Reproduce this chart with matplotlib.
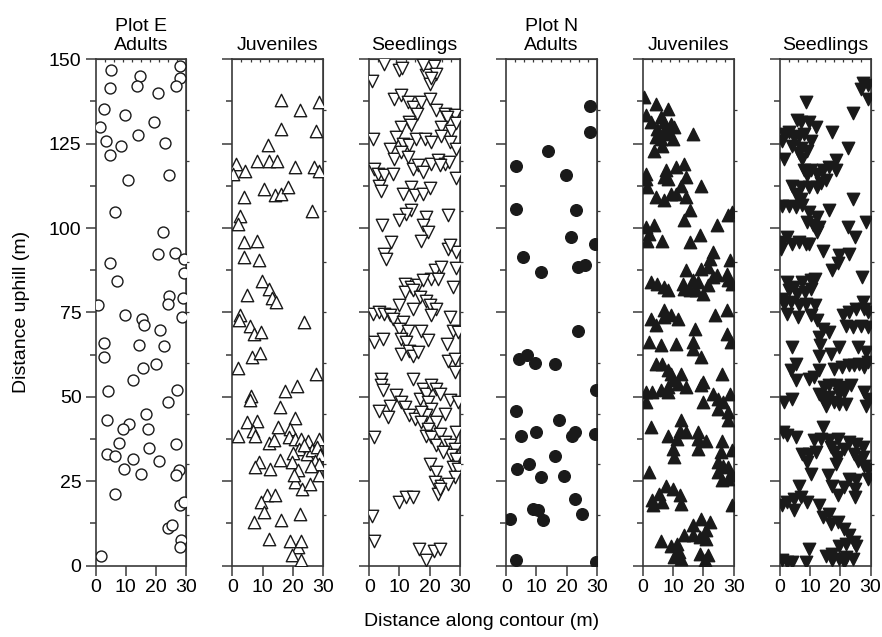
import numpy as np
import matplotlib.pyplot as plt

plt.rcParams['font.family'] = ['Liberation Sans', 'DejaVu Sans']
plt.rcParams['font.size'] = 14

# Plot E adults (open circles)
e_adult_x = [5.3, 27.9, 14.6, 27.9, 4.8, 13.7, 26.6, 20.7, 2.8, 9.9, 19.4, 1.4, 14.0, 3.5, 8.3,
             23.0, 4.8, 10.8, 24.3, 6.6, 22.5, 20.8, 26.5, 29.4, 4.8, 29.4, 7.1, 24.4, 23.9, 29.1,
             0.9, 9.9, 15.3, 16.2, 28.7, 21.4, 2.8, 14.4, 22.8, 2.8, 15.6, 20.2, 12.5, 4.2, 26.9,
             24.0, 16.9, 3.8, 11.0, 9.0, 17.5, 7.8, 26.7, 17.7, 3.8, 6.6, 12.3, 21.0, 9.3, 15.1,
             27.7, 26.7, 6.5, 28.0, 29.4, 23.9, 25.5, 28.3, 27.9, 1.8]
e_adult_y = [146.9, 147.9, 145.0, 144.5, 141.5, 142.0, 142.0, 140.1, 135.2, 133.6, 131.4, 129.9,
             127.5, 125.9, 124.3, 125.3, 121.5, 114.3, 115.6, 104.7, 98.7, 92.4, 92.7, 90.8, 89.5,
             86.7, 84.4, 79.8, 77.6, 79.2, 77.2, 74.1, 73.0, 71.3, 73.6, 69.8, 65.8, 65.4, 65.0,
             61.9, 58.5, 59.6, 55.0, 51.6, 51.9, 48.4, 45.0, 43.0, 42.0, 40.5, 40.5, 36.3, 36.1,
             34.9, 33.1, 32.3, 31.6, 30.9, 28.7, 27.2, 28.4, 26.9, 21.2, 17.8, 18.8, 11.1, 11.9,
             7.7, 5.5, 2.7]

# Plot E juveniles (open up-triangles)
e_juv_x = [16.2, 28.7, 22.3, 16.2, 27.8, 11.8, 1.3, 8.3, 12.0, 14.9, 20.9, 27.2, 28.7, 4.2, 0.1,
           4.0, 10.6, 14.2, 16.2, 18.4, 26.4, 2.6, 2.0, 4.0, 8.1, 4.0, 8.7, 9.8, 12.0, 4.7, 13.1,
           14.4, 2.4, 2.1, 5.7, 7.2, 9.6, 23.9, 6.4, 9.2, 1.8, 27.8, 21.4, 17.6, 6.1, 5.8, 15.9,
           4.8, 8.1, 6.7, 20.9, 1.8, 15.1, 7.6, 12.0, 13.8, 19.2, 18.7, 20.7, 22.8, 24.9, 28.7,
           22.0, 20.0, 24.8, 26.4, 28.1, 28.9, 27.3, 8.7, 7.6, 12.6, 15.9, 19.8, 21.8, 20.7, 20.4,
           23.1, 25.6, 28.7, 11.4, 14.0, 9.4, 10.6, 22.3, 7.2, 16.0, 12.0, 19.1, 21.8, 22.6, 19.8,
           22.7, 28.7, 26.2, 23.6]
e_juv_y = [137.8, 137.2, 134.9, 129.4, 128.9, 124.7, 119.1, 119.8, 119.8, 120.0, 118.0, 118.0,
           117.0, 117.0, 116.0, 109.2, 111.6, 109.7, 110.2, 112.2, 105.1, 103.6, 101.1, 96.0,
           96.3, 91.3, 90.6, 84.4, 82.0, 80.2, 79.2, 78.2, 74.3, 72.6, 70.9, 68.6, 69.2, 72.1,
           61.7, 62.9, 58.5, 56.8, 53.1, 51.6, 50.1, 48.9, 47.1, 42.5, 42.7, 40.0, 43.7, 38.5,
           40.9, 38.3, 36.4, 37.2, 40.5, 38.0, 37.4, 37.4, 36.9, 37.5, 34.6, 33.3, 33.1, 34.1,
           35.1, 32.6, 31.1, 30.6, 29.2, 28.7, 31.4, 30.8, 28.2, 24.7, 26.7, 22.7, 24.2, 26.7,
           21.0, 20.8, 18.8, 15.8, 15.3, 12.8, 13.6, 7.9, 7.4, 5.4, 7.4, 3.0, 1.5, 30.1, 29.6, 35.6]

# Plot E seedlings (open down-triangles)
e_seed_x = [0.9, 5.0, 10.0, 10.9, 18.9, 21.3, 22.0, 17.8, 20.0, 20.6, 8.3, 10.6, 12.8, 14.4, 17.2,
            20.0, 22.2, 25.0, 28.3, 25.6, 15.8, 13.3, 10.6, 13.9, 23.9, 27.2, 28.9, 1.3, 6.7, 8.9,
            11.1, 13.3, 15.6, 18.3, 20.6, 23.9, 26.7, 28.7, 8.3, 10.6, 12.8, 14.4, 16.1, 17.8,
            20.6, 22.8, 25.0, 26.4, 23.3, 1.7, 2.8, 5.0, 7.8, 3.3, 3.9, 28.9, 11.1, 13.9, 15.0,
            17.8, 20.2, 13.9, 12.2, 10.0, 18.9, 17.8, 19.4, 17.2, 26.1, 4.2, 7.2, 26.1, 5.0, 5.6,
            28.9, 26.7, 21.7, 23.9, 28.9, 20.6, 22.8, 11.7, 13.9, 16.1, 17.8, 27.8, 11.7, 14.4,
            16.7, 18.9, 10.0, 14.4, 20.0, 22.2, 1.3, 3.3, 5.0, 6.7, 7.8, 11.1, 20.6, 26.7, 27.8,
            29.4, 10.0, 12.8, 17.2, 1.7, 4.4, 10.6, 12.2, 19.4, 25.6, 10.6, 13.3, 14.4, 16.1, 26.1,
            28.3, 28.3, 3.9, 3.9, 4.7, 14.4, 8.9, 6.7, 3.3, 6.1, 10.6, 11.7, 13.3, 15.0, 16.7,
            17.8, 18.9, 20.6, 22.2, 23.3, 19.4, 20.6, 18.9, 17.2, 22.2, 25.0, 26.7, 29.4, 17.2,
            19.4, 1.7, 18.9, 20.6, 23.3, 28.9, 22.2, 25.0, 26.7, 28.3, 27.2, 28.9, 24.4, 20.0,
            27.8, 29.4, 28.3, 22.2, 21.7, 23.9, 26.1, 22.8, 23.3, 10.0, 12.2, 14.4, 0.9, 1.7, 16.4,
            21.3, 23.3, 18.7]
e_seed_y = [143.5, 148.7, 146.7, 147.4, 145.3, 148.0, 145.6, 148.2, 142.8, 144.5, 138.3, 139.5,
            137.4, 135.9, 137.4, 138.3, 134.9, 133.9, 133.6, 132.9, 133.9, 131.4, 129.9, 130.4,
            129.9, 128.9, 131.0, 126.3, 123.5, 127.0, 125.0, 124.5, 126.5, 126.5, 125.5, 127.4,
            125.5, 123.5, 120.6, 122.5, 121.1, 117.6, 118.6, 116.6, 119.1, 120.1, 119.1, 119.6,
            118.6, 117.6, 116.1, 115.6, 116.1, 112.6, 111.1, 114.7, 110.2, 112.2, 109.7, 110.2,
            111.9, 105.2, 104.2, 102.3, 103.3, 100.8, 98.8, 96.3, 103.8, 101.0, 95.8, 93.9, 92.4,
            90.9, 92.9, 94.9, 87.5, 88.5, 88.2, 85.0, 85.0, 83.5, 82.5, 83.0, 84.5, 82.5, 81.0,
            81.5, 79.5, 78.5, 77.1, 76.1, 77.1, 76.1, 74.6, 75.1, 74.6, 74.1, 73.1, 72.1, 74.1,
            73.6, 69.6, 69.1, 70.2, 69.6, 69.6, 66.2, 67.2, 67.2, 66.2, 66.7, 65.7, 62.7, 63.7,
            62.2, 63.2, 60.7, 61.3, 57.3, 55.3, 53.4, 51.9, 55.3, 50.4, 47.4, 45.7, 44.0, 48.4,
            46.9, 44.5, 43.5, 49.4, 52.4, 50.9, 53.4, 52.4, 50.9, 48.4, 46.4, 44.5, 45.5, 42.5,
            45.0, 48.9, 48.4, 42.5, 40.5, 38.0, 38.5, 38.0, 39.0, 39.5, 35.6, 36.6, 35.6, 34.6,
            32.6, 31.6, 33.6, 30.1, 29.2, 28.7, 26.2, 27.7, 24.7, 23.7, 24.2, 21.3, 22.7, 18.8,
            20.3, 20.3, 14.8, 7.4, 4.9, 4.4, 4.9, 1.5]

# Plot N adults (filled circles)
n_adult_x = [27.9, 27.9, 13.9, 3.4, 19.8, 3.3, 23.3, 21.6, 29.4, 5.7, 11.4, 23.7, 26.1, 23.8, 4.2,
             6.9, 9.6, 16.2, 29.8, 3.3, 17.6, 10.0, 22.7, 29.3, 5.0, 21.9, 16.2, 7.6, 3.7, 11.4,
             19.0, 22.8, 8.9, 10.6, 25.1, 1.2, 12.3, 3.3, 29.8]
n_adult_y = [136.2, 128.5, 122.8, 118.3, 115.8, 105.5, 105.2, 97.3, 95.2, 91.4, 87.0, 88.5, 88.9,
             69.5, 61.3, 62.3, 60.0, 59.8, 51.9, 45.8, 43.0, 39.7, 39.5, 39.0, 38.3, 38.3, 32.3,
             30.1, 28.7, 26.2, 26.5, 19.8, 16.8, 16.3, 15.3, 13.8, 13.6, 1.5, 1.0]

# Plot N juveniles (filled up-triangles)
n_juv_x = [0.4, 4.2, 8.1, 0.8, 2.5, 5.8, 7.0, 9.2, 10.3, 4.7, 7.0, 8.7, 4.3, 5.8, 9.8, 16.5, 6.4,
           3.6, 0.8, 0.8, 1.3, 7.5, 7.0, 8.1, 10.9, 13.5, 14.3, 12.6, 19.1, 4.3, 7.0, 9.2, 10.9,
           14.3, 15.4, 13.7, 0.8, 2.0, 3.6, 1.4, 6.4, 15.4, 19.0, 24.4, 28.3, 29.4, 23.3, 22.1,
           28.9, 14.3, 19.3, 21.6, 24.4, 27.8, 13.1, 23.3, 16.5, 18.3, 21.6, 28.3, 29.4, 2.5, 4.7,
           7.0, 8.1, 13.7, 15.4, 17.5, 19.8, 7.0, 2.5, 4.2, 7.0, 9.2, 11.5, 23.8, 27.7, 17.1, 1.9,
           5.8, 10.9, 16.5, 16.5, 19.3, 27.8, 29.0, 4.2, 6.4, 8.1, 9.2, 12.6, 9.8, 11.5, 8.1, 14.3,
           19.8, 19.3, 26.1, 0.8, 0.8, 3.0, 5.8, 8.3, 23.3, 24.9, 26.6, 28.9, 19.9, 24.9, 28.3,
           28.3, 2.7, 12.6, 12.1, 14.3, 8.1, 11.4, 18.2, 21.0, 18.2, 9.8, 10.3, 18.2, 26.1, 29.4,
           25.8, 24.9, 26.6, 24.9, 28.3, 26.1, 28.3, 29.4, 1.9, 7.5, 5.3, 9.8, 12.1, 3.0, 3.4, 6.4,
           12.6, 29.4, 19.3, 22.1, 16.5, 20.9, 13.7, 5.8, 9.2, 11.4, 16.5, 18.8, 21.0, 12.0, 10.3,
           12.6, 18.8, 21.6, 20.5]
n_juv_y = [138.8, 136.8, 135.3, 133.4, 131.4, 132.9, 131.4, 130.9, 129.9, 129.4, 128.9, 127.9,
           126.9, 126.5, 126.5, 127.9, 124.3, 122.7, 116.1, 114.6, 112.2, 117.1, 115.1, 114.6,
           118.1, 119.1, 115.1, 112.6, 112.6, 109.2, 108.2, 110.2, 110.2, 109.2, 105.2, 102.3,
           100.3, 98.3, 100.8, 96.3, 96.3, 95.8, 97.8, 100.8, 103.8, 104.8, 92.9, 90.9, 90.4,
           87.5, 88.0, 88.5, 86.0, 86.5, 83.5, 85.5, 84.5, 84.0, 83.0, 84.5, 83.5, 84.0, 83.5,
           82.5, 81.5, 82.0, 81.5, 81.5, 80.5, 75.6, 73.1, 71.3, 73.6, 74.1, 73.1, 74.1, 75.6,
           70.1, 66.2, 65.2, 65.7, 66.2, 64.2, 61.7, 68.6, 66.2, 59.8, 59.8, 57.8, 56.8, 56.8,
           54.9, 53.9, 52.9, 52.9, 54.4, 53.4, 56.8, 51.4, 48.4, 51.4, 51.9, 51.4, 50.9, 49.4,
           48.4, 50.9, 48.4, 46.4, 45.5, 43.0, 41.0, 43.0, 40.0, 39.5, 38.5, 37.5, 39.5, 37.0,
           37.5, 34.6, 32.1, 34.6, 37.0, 34.1, 33.6, 30.6, 29.6, 27.7, 29.2, 25.2, 25.7, 26.7,
           27.7, 23.7, 21.2, 22.7, 20.8, 19.3, 17.8, 18.8, 18.3, 17.8, 13.8, 12.9, 11.9, 10.4,
           8.9, 7.4, 5.9, 6.4, 8.9, 8.4, 7.9, 4.0, 2.5, 2.0, 3.5, 3.0, 1.5]

# Plot N seedlings (filled down-triangles)
n_seed_x = [27.4, 29.1, 26.7, 29.3, 8.6, 24.1, 5.6, 6.9, 9.7, 11.9, 17.4, 1.3, 3.0, 4.7, 6.3, 8.0,
            10.2, 0.8, 4.1, 6.9, 9.1, 22.4, 6.3, 7.4, 1.3, 18.6, 16.3, 14.1, 12.4, 10.2, 18.6, 9.1,
            8.0, 15.2, 13.5, 4.1, 6.9, 9.7, 12.4, 5.2, 6.9, 24.1, 0.8, 3.0, 5.2, 7.4, 9.7, 12.2,
            16.3, 8.9, 10.8, 12.4, 13.0, 22.4, 24.7, 28.6, 0.8, 2.4, 4.1, 6.3, 8.6, 9.7, 0.2, 14.1,
            19.7, 23.0, 19.1, 17.4, 27.2, 2.4, 4.7, 3.0, 7.4, 10.2, 11.5, 5.8, 8.3, 10.2, 0.8, 1.3,
            3.6, 6.3, 8.6, 11.5, 2.4, 6.1, 10.2, 12.4, 14.1, 16.3, 20.8, 23.0, 25.2, 28.0, 27.4,
            29.1, 21.9, 24.1, 26.9, 29.1, 12.8, 13.3, 4.1, 12.8, 16.9, 19.7, 25.8, 28.6, 5.2, 3.6,
            5.2, 9.7, 11.2, 12.8, 17.9, 20.7, 22.9, 24.6, 26.2, 28.0, 29.1, 14.7, 16.3, 18.6, 21.3,
            23.6, 12.8, 14.1, 16.3, 19.6, 21.3, 28.0, 29.1, 1.3, 4.1, 15.2, 17.9, 19.6, 21.9, 28.6,
            1.1, 2.4, 5.2, 14.1, 11.3, 13.5, 16.3, 19.1, 23.0, 25.2, 27.4, 7.4, 9.7, 11.9, 16.9,
            17.9, 19.1, 21.3, 24.6, 27.4, 9.1, 18.6, 25.8, 28.0, 10.2, 23.0, 25.2, 29.1, 15.8, 29.1,
            17.4, 21.3, 25.0, 19.1, 25.0, 6.3, 0.8, 2.4, 4.7, 6.9, 9.1, 4.7, 12.8, 14.1, 16.3, 16.9,
            19.1, 21.3, 22.9, 24.6, 9.7, 19.6, 21.8, 25.2, 15.2, 17.4, 17.4, 19.6, 21.9, 24.2, 0.8,
            2.4, 4.1, 8.6, 21.3]
n_seed_y = [143.1, 142.3, 141.1, 138.3, 137.4, 134.1, 131.9, 131.4, 131.4, 129.9, 128.4, 127.9,
            128.4, 126.9, 127.4, 127.9, 125.8, 125.8, 124.3, 123.8, 122.9, 123.8, 122.3, 120.6,
            120.6, 120.1, 118.1, 117.1, 116.1, 117.1, 117.1, 115.6, 117.1, 114.1, 113.2, 112.6,
            112.2, 112.2, 112.2, 110.2, 108.7, 108.7, 106.5, 106.5, 106.2, 106.7, 104.7, 103.3,
            105.2, 101.8, 100.8, 98.8, 100.3, 100.3, 97.3, 101.8, 95.8, 97.3, 95.3, 95.8, 95.3,
            95.3, 93.8, 93.3, 91.9, 92.4, 89.5, 87.5, 85.5, 84.0, 82.5, 81.5, 84.0, 84.5, 85.0,
            80.6, 81.0, 81.9, 79.1, 77.6, 78.1, 77.1, 77.6, 77.1, 74.6, 73.6, 74.1, 72.6, 70.2,
            69.2, 74.1, 75.1, 76.1, 76.1, 78.1, 75.1, 71.1, 70.6, 71.1, 70.6, 67.7, 65.2, 64.7,
            62.2, 62.7, 64.7, 64.7, 63.2, 59.8, 57.8, 54.9, 55.3, 55.8, 57.8, 58.3, 58.8, 59.3,
            59.3, 59.8, 58.8, 60.3, 52.9, 53.4, 53.4, 52.9, 53.4, 50.9, 49.4, 49.9, 50.9, 51.4,
            51.4, 49.4, 48.4, 49.4, 47.4, 48.4, 47.9, 47.9, 47.4, 39.6, 38.6, 38.0, 41.0, 37.1,
            37.5, 37.1, 37.5, 36.6, 36.1, 35.1, 33.1, 33.1, 33.6, 35.1, 33.6, 32.1, 34.6, 33.1,
            32.1, 30.6, 30.1, 31.1, 29.6, 27.2, 25.7, 25.2, 28.7, 26.7, 25.7, 23.7, 23.2, 22.7,
            20.8, 20.3, 23.7, 17.8, 18.8, 19.8, 20.3, 18.8, 16.3, 17.8, 14.3, 15.3, 12.4, 12.8,
            10.9, 8.9, 6.9, 4.9, 5.9, 6.4, 5.9, 2.9, 3.5, 1.5, 2.0, 2.5, 2.0, 1.5, 1.0, 1.0, 1.0,
            1.0]

titles = ['Plot E\nAdults', 'Juveniles', 'Seedlings', 'Plot N\nAdults', 'Juveniles', 'Seedlings']

panels = [
    (e_adult_x, e_adult_y, 'o', False, 62),
    (e_juv_x, e_juv_y, '^', False, 80),
    (e_seed_x, e_seed_y, 'v', False, 80),
    (n_adult_x, n_adult_y, 'o', True, 70),
    (n_juv_x, n_juv_y, '^', True, 80),
    (n_seed_x, n_seed_y, 'v', True, 80),
]

W, H = 882, 637
fig = plt.figure(figsize=(W / 100, H / 100), dpi=100)
axcol = '#3a3a3a'

left0, step, w = 95.5, 136.9, 90.5
top_px, bot_px = 59.3, 565.5

for i, (xs, ys, mk, filled, sz) in enumerate(panels):
    ax = fig.add_axes([(left0 + step * i) / W, 1 - bot_px / H, w / W, (bot_px - top_px) / H])
    fc = '#1a1a1a' if filled else 'white'
    ax.scatter(xs, ys, marker=mk, s=sz, facecolors=fc, edgecolors='#1a1a1a',
               linewidths=1.0, zorder=3)
    ax.set_xlim(0, 30)
    ax.set_ylim(0, 150)
    ax.set_xticks([0, 10, 20, 30])
    ax.set_yticks(np.arange(0, 151, 25))
    ax.set_yticks(np.arange(12.5, 150, 25), minor=True)
    ax.tick_params(axis='both', which='major', direction='out', length=7, width=1.1,
                   color=axcol, pad=3, labelsize=14)
    ax.tick_params(axis='y', which='minor', direction='out', length=4, width=1.1, color=axcol)
    ax.tick_params(axis='y', labelleft=(i == 0))
    for sp in ax.spines.values():
        sp.set_color(axcol)
        sp.set_linewidth(1.2)

    # small ticks on top and right edges
    sx = ax.secondary_xaxis('top')
    sx.set_xticks(np.arange(3, 30, 3))
    sx.tick_params(direction='in', length=2.5, width=0.9, color=axcol, labeltop=False)
    sx.spines['top'].set_color(axcol)
    sy = ax.secondary_yaxis('right')
    sy.set_yticks(np.arange(15, 150, 15))
    sy.tick_params(direction='out', length=2.5, width=0.9, color=axcol, labelright=False)
    sy.spines['right'].set_color(axcol)

    ax.set_title(titles[i], fontsize=14, pad=7, linespacing=1.15)

fig.text(22 / W, 1 - 312 / H, 'Distance uphill (m)', rotation=90, ha='center', va='center',
         fontsize=14)
fig.text(482 / W, 1 - 622 / H, 'Distance along contour (m)', ha='center', va='center',
         fontsize=14)

fig.savefig('out.png', dpi=100)
